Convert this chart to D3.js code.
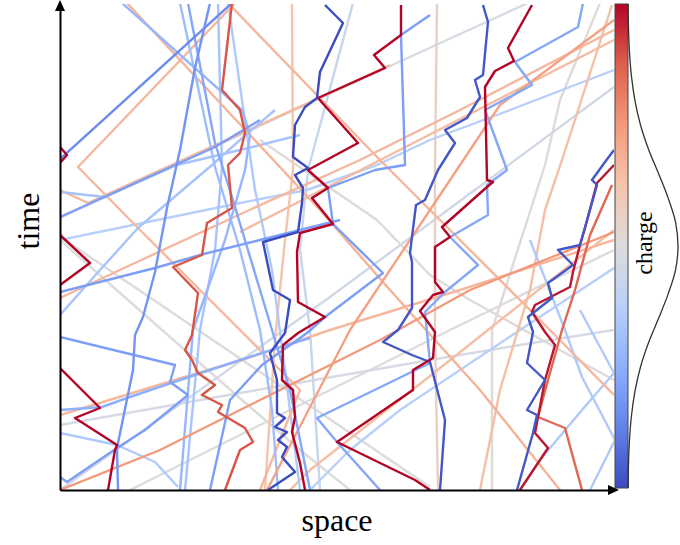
<!DOCTYPE html>
<html>
<head>
<meta charset="utf-8">
<script src="https://cdn.jsdelivr.net/npm/d3@7"></script>
<style>
  body { margin: 0; background: #fff; }
  svg { display: block; font-family: 'Liberation Serif', 'DejaVu Serif', serif; }
</style>
</head>
<body>
<div id="chart"></div>
<script>
// charge of each particle (-1 = blue, +1 = red)
const charges = [
  1, 1, 1, 1, 1, 0.95,
  -1, -0.95, -0.95,
  -0.7, -0.45, -0.65, -0.6, -0.55, -0.6, -0.5, -0.6, -0.35,
  -0.35, -0.4, -0.3, -0.25, -0.35, -0.25, -0.3, -0.3,
  -0.05, -0.15, -0.08, 0.02, 0, -0.05, 0, 0, 0.02,
  0.32, 0.35, 0.33, 0.25, 0.3, 0.28, 0.12, 0.32, 0.32, 0.28,
  0.78, 0.72, 0.45, 0.5,
  -0.55, -0.3, -0.6, 0.32
];

// world lines, [space, time] pairs
const trajectories = [
  [[341,485],[341,455],[314,435],[325,422],[258,392],[298,347],[248,320],[268,302],[252,292],[273,266],[240,257],[237,238],[238,188],[265,173],[238,157],[223,145],[222,110],[233,100],[235,73],[232,58],[240,27],[245,0]],
  [[472,485],[448,442],[454,429],[435,419],[425,403],[427,310],[433,308],[427,303],[382,263],[390,253],[375,243],[375,208],[383,198],[373,195],[360,179],[375,158],[373,132],[353,120],[353,100],[277,48],[355,10],[370,0]],
  [[0,343],[7,335],[0,327]],
  [[0,255],[30,227],[0,205]],
  [[0,122],[40,82],[15,72],[57,45],[55,40],[48,0]],
  [[554,325],[537,307],[525,262],[520,245],[513,218],[510,203],[475,185],[472,178],[485,158],[495,145],[485,110],[475,57],[488,42],[460,0]],
  [[265,485],[283,467],[260,418],[257,392],[245,383],[235,365],[233,333],[248,322],[235,315],[243,302],[242,287],[238,258],[203,248],[213,200],[230,190],[225,157],[210,137],[217,110],[217,77],[225,72],[215,63],[227,58],[218,50],[227,43],[222,33],[235,18],[208,0]],
  [[423,485],[428,468],[423,415],[415,410],[420,393],[407,372],[385,360],[395,347],[378,320],[365,290],[356,285],[350,237],[352,228],[352,182],[338,160],[323,148],[352,135],[370,128],[385,70],[380,0]],
  [[554,340],[545,328],[532,310],[537,305],[520,245],[498,240],[513,225],[488,207],[492,192],[468,173],[473,158],[467,127],[485,110],[467,80],[477,75],[473,57],[457,0]],
  [[0,331],[172,487]],
  [[62,487],[182,380],[190,355],[185,320],[165,250],[133,160],[120,0]],
  [[150,487],[135,422],[120,340],[107,282],[95,218],[83,173],[75,155],[73,120],[57,42],[58,0]],
  [[370,475],[341,455],[345,325],[315,320],[268,302],[273,266],[323,217],[265,173],[247,157],[202,125],[170,90],[150,0]],
  [[523,487],[518,463],[455,428],[472,405],[425,380],[447,320],[427,305],[428,275],[390,253],[418,225],[385,198],[365,178],[370,127],[257,72],[277,48],[320,0]],
  [[0,153],[115,125],[110,108],[128,95],[85,60],[57,42],[7,8],[0,13]],
  [[0,80],[42,83],[67,92],[120,110],[180,130],[250,152]],
  [[0,198],[95,222],[140,235],[200,250],[280,270]],
  [[0,298],[45,293],[117,325],[180,340],[240,355]],
  [[158,487],[162,323],[155,240],[140,160],[125,0]],
  [[120,487],[155,323],[180,240],[200,160],[212,80],[218,0]],
  [[0,57],[57,45],[95,28],[118,3]],
  [[554,222],[460,160],[400,120],[340,80],[290,40],[250,0]],
  [[0,175],[40,220],[78,262],[152,325],[180,350],[215,380]],
  [[0,250],[180,287],[247,300],[317,325],[370,350],[450,380],[554,420]],
  [[470,250],[505,160],[522,113],[555,50],[530,0]],
  [[460,0],[480,30],[522,80],[554,117],[520,180]],
  [[468,487],[365,440],[180,355],[0,272]],
  [[293,487],[248,320],[240,240],[250,160],[260,0]],
  [[554,403],[270,193],[0,0]],
  [[432,0],[432,160],[485,325],[500,390],[540,487]],
  [[0,250],[102,160],[182,90],[240,40],[290,0]],
  [[0,65],[180,97],[370,130],[460,145],[554,160]],
  [[5,250],[237,93],[370,3]],
  [[554,240],[390,160],[250,90],[70,0]],
  [[200,350],[317,270],[370,215],[410,190],[554,110]],
  [[200,0],[240,100],[140,200],[77,263],[18,323],[175,487]],
  [[67,487],[120,430],[190,355],[260,280],[330,200],[420,100],[500,0]],
  [[168,487],[252,400],[320,330],[400,250],[480,170],[554,95]],
  [[232,487],[233,320],[225,250],[215,150],[205,0]],
  [[180,258],[365,353],[554,450]],
  [[552,485],[502,330],[485,280],[470,200],[440,100],[420,0]],
  [[377,487],[375,320],[375,155],[378,0]],
  [[0,75],[138,117],[182,130],[270,160],[400,200],[554,250]],
  [[0,192],[77,228],[185,278],[300,330],[400,380],[554,460]],
  [[230,0],[250,20],[365,110],[428,160],[554,260]],
  [[172,487],[162,400],[180,380],[185,357],[180,337],[168,325],[172,282],[147,267],[142,235],[113,223],[138,197],[132,155],[125,140],[132,130],[138,117],[155,105],[142,95],[162,85],[158,78],[185,62],[193,48],[180,40],[165,0]],
  [[552,305],[530,255],[515,200],[502,160],[488,110],[478,73],[505,62],[522,0]],
  [[554,470],[440,385],[380,295],[290,160],[207,0]],
  [[554,258],[522,245],[410,200],[320,150],[200,90],[100,40],[0,0]],
  [[128,487],[155,347],[172,293],[200,200],[230,100],[250,0]],
  [[168,487],[195,300],[212,220],[225,120],[240,0]],
  [[0,273],[155,343],[200,370]],
  [[0,300],[28,287],[248,387],[330,425]]
];

// charge distribution drawn next to the colour bar
const densityCharge = [-1, -0.9, -0.8, -0.7, -0.6, -0.5, -0.4, -0.3, -0.2, -0.1, 0, 0.1, 0.2, 0.3, 0.4, 0.5, 0.6, 0.7, 0.8, 0.9, 1];
const densityValue = [0.004, 0.01, 0.03, 0.07, 0.14, 0.25, 0.41, 0.61, 0.8, 0.95, 1, 0.95, 0.8, 0.61, 0.41, 0.25, 0.14, 0.07, 0.03, 0.01, 0.004];

// coolwarm colour map
const colorStops = ['#3b4cc0', '#6282ea', '#8db0fe', '#b8d0f9', '#dddcdc', '#f5c4ac', '#f49a7b', '#de604d', '#b40426'];

let width = 680;
let height = 545;

let xScale = d3.scaleLinear().domain([0, 554]).range([60, 614]);
let yScale = d3.scaleLinear().domain([0, 486]).range([490, 4]);
let color = d3.scaleLinear()
  .domain(colorStops.map((c, i) => -1 + i * 2 / (colorStops.length - 1)))
  .range(colorStops);
let chargeScale = d3.scaleLinear().domain([-1, 1]).range([488, 4]);
let densScale = d3.scaleLinear().domain([0, 1]).range([628, 678]);

let svg = d3.select('#chart').append('svg').attr('width', width).attr('height', height);
let defs = svg.append('defs');

defs.append('clipPath').attr('id', 'plot-clip')
  .append('rect')
  .attr('x', xScale(0)).attr('y', yScale(486))
  .attr('width', xScale(554) - xScale(0))
  .attr('height', yScale(0) - yScale(486));

//world lines, light ones first
let order = d3.range(trajectories.length).sort((a, b) => Math.abs(charges[a]) - Math.abs(charges[b]));
let line = d3.line().x((d) => xScale(d[0])).y((d) => yScale(d[1]));

svg.append('g')
  .attr('clip-path', 'url(#plot-clip)')
  .selectAll('path')
  .data(order)
  .enter()
  .append('path')
  .attr('d', (i) => line(trajectories[i]))
  .attr('fill', 'none')
  .attr('stroke', (i) => color(charges[i]))
  .attr('stroke-width', 2.4)
  .attr('stroke-linejoin', 'round');

//colour bar
let grad = defs.append('linearGradient').attr('id', 'cbar')
  .attr('x1', 0).attr('y1', 1).attr('x2', 0).attr('y2', 0);
colorStops.forEach((c, i) => {
  grad.append('stop').attr('offset', i / (colorStops.length - 1)).attr('stop-color', c);
});

svg.append('rect')
  .attr('x', 615)
  .attr('y', chargeScale(1))
  .attr('width', 13)
  .attr('height', chargeScale(-1) - chargeScale(1))
  .attr('fill', 'url(#cbar)')
  .attr('stroke', '#444')
  .attr('stroke-width', 1);

//charge distribution
svg.append('path')
  .datum(densityCharge.map((q, i) => [q, densityValue[i]]))
  .attr('d', d3.line().x((d) => densScale(d[1])).y((d) => chargeScale(d[0])).curve(d3.curveCatmullRom))
  .attr('fill', 'none')
  .attr('stroke', '#333')
  .attr('stroke-width', 1.3);

//axes without ticks
svg.append('g')
  .attr('transform', 'translate(0,' + yScale(0) + ')')
  .call(d3.axisBottom(xScale).tickValues([]).tickSizeOuter(0));
svg.append('g')
  .attr('transform', 'translate(' + xScale(0) + ',0)')
  .call(d3.axisLeft(yScale).tickValues([]).tickSizeOuter(0));
svg.selectAll('.domain').attr('stroke', '#000').attr('stroke-width', 2);

//arrow heads
let xEnd = xScale(554) + 5;
let yEnd = yScale(486) - 4;
svg.append('path')
  .attr('d', `M${xEnd - 11},${yScale(0) - 5}L${xEnd},${yScale(0)}L${xEnd - 11},${yScale(0) + 5}Z`)
  .attr('fill', '#000');
svg.append('path')
  .attr('d', `M${xScale(0) - 5},${yEnd + 11}L${xScale(0)},${yEnd}L${xScale(0) + 5},${yEnd + 11}Z`)
  .attr('fill', '#000');

//labels
svg.append('text')
  .text('space')
  .attr('x', (xScale(0) + xScale(554)) / 2)
  .attr('y', 531)
  .attr('text-anchor', 'middle')
  .style('font-size', '32px');

svg.append('text')
  .text('time')
  .attr('transform', 'translate(39,' + 221 + ') rotate(-90)')
  .attr('text-anchor', 'middle')
  .style('font-size', '32px');

svg.append('text')
  .text('charge')
  .attr('transform', 'translate(652,' + 243 + ') rotate(-90)')
  .attr('text-anchor', 'middle')
  .style('font-size', '24px');
</script>
</body>
</html>
